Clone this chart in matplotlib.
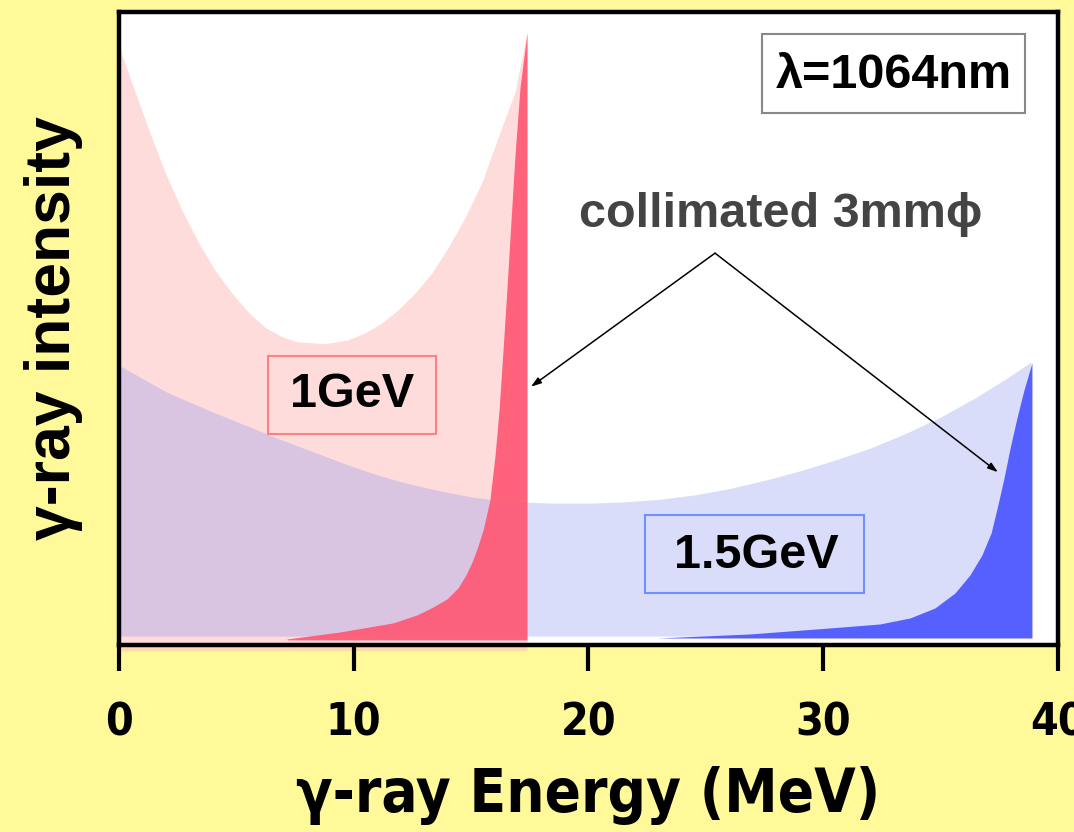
import matplotlib.pyplot as plt
from matplotlib.patches import Rectangle

# 1 GeV electrons, full (uncollimated) spectrum
e_1gev = [0, 0.13, 0.55, 1.24, 1.96, 2.68, 3.37, 4.09, 4.81, 5.5, 6.22, 6.94,
          7.61, 8.78, 9.75, 10.48, 11.2, 11.88, 12.61, 13.33, 14.01, 14.74,
          15.46, 16.14, 16.87, 17.38]
i_1gev = [94.8, 93.2, 88.8, 81.7, 74.7, 68.7, 63.7, 59.2, 55.6, 52.6, 50.2, 48.7,
          47.9, 47.6, 48.2, 49.3, 50.9, 52.9, 55.6, 58.8, 62.7, 67.5,
          73.1, 80.1, 87.4, 96.8]

# 1 GeV, collimated 3mm
e_1gev_col = [7.16, 9.41, 11.67, 12.69, 13.38, 13.97, 14.44, 14.78, 15.04, 15.25,
              15.51, 15.8, 16.02, 16.19, 16.36, 16.53, 16.7, 16.87, 17.08, 17.38]
i_1gev_col = [0.95, 2.05, 3.48, 4.74, 6.0, 7.27, 9.0, 11.06, 13.11, 15.17,
              18.17, 22.91, 30.02, 37.12, 46.6, 56.56, 67.14, 77.41, 87.99, 96.68]

# 1.5 GeV electrons, full spectrum
e_15gev = [0, 1.0, 2.0, 3.0, 4.0, 5.0, 6.0, 7.0, 8.0, 9.0, 10.0, 11.0, 12.0, 13.0,
           14.0, 15.0, 16.0, 17.0, 18.5, 20.0, 21.5, 23.0, 24.5, 26.0, 27.5, 29.0,
           30.5, 32.0, 33.5, 35.0, 36.5, 37.8, 38.85]
i_15gev = [44.2, 42.1, 40.0, 38.4, 36.8, 35.3, 33.8, 32.3, 30.9, 29.5, 28.1, 26.9,
           25.8, 24.9, 24.1, 23.4, 22.9, 22.6, 22.4, 22.4, 22.6, 23.0, 23.7, 24.7,
           26.0, 27.5, 29.2, 31.1, 33.4, 36.0, 39.1, 42.1, 44.7]

# 1.5 GeV, collimated 3mm
e_15gev_col = [22.92, 26.88, 30.29, 32.42, 33.7, 34.76, 35.61, 36.25, 36.76, 37.15,
               37.44, 37.7, 37.96, 38.25, 38.55, 38.89]
i_15gev_col = [1.1, 1.74, 2.69, 3.32, 4.27, 5.85, 8.21, 11.06, 14.22, 17.69,
               22.12, 26.38, 31.12, 35.86, 40.28, 44.55]

xticks = [0, 10, 20, 30, 40]

narrow = ['Liberation Sans Narrow', 'DejaVu Sans']
bold = ['Liberation Sans', 'DejaVu Sans']

fig = plt.figure(figsize=(10.74, 8.32), dpi=100, facecolor='#FFF99A')
ax = fig.add_axes([0.1108, 0.2248, 0.8743, 0.7608])
ax.set_facecolor('white')

# broad spectra first, sharp collimated peaks on top
ax.fill_between(e_1gev, i_1gev, -0.9, color=(1, 187/255, 187/255), alpha=0.5,
                lw=0, clip_on=False)
ax.fill_between(e_15gev, i_15gev, 1.4, color=(132/255, 145/255, 238/255),
                alpha=0.3, lw=0)
ax.fill_between(e_1gev_col, i_1gev_col, 0.8, color=(1, 85/255, 113/255),
                alpha=0.9, lw=0)
ax.fill_between(e_15gev_col, i_15gev_col, 1.1, color='#5560FF', lw=0)

ax.set_xlim(0, 40)
ax.set_ylim(0, 100)
ax.set_xticks(xticks)
ax.set_yticks([])
ax.tick_params(axis='x', direction='out', length=19, width=3, pad=22, color='black')
for lab in ax.get_xticklabels():
    lab.set_fontfamily(narrow)
    lab.set_fontstretch('condensed')
    lab.set_fontweight('bold')
    lab.set_fontsize(32)
for sp in ax.spines.values():
    sp.set_linewidth(3.2)
    sp.set_color('black')

ax.set_xlabel('γ-ray Energy (MeV)', fontsize=43, fontweight='bold',
              family=narrow, fontstretch='condensed', labelpad=15)
ax.set_ylabel('γ-ray intensity', fontsize=45, fontweight='bold',
              family=bold, labelpad=26)

# labelled boxes
ax.add_patch(Rectangle((6.35, 33.3), 7.15, 12.4, fill=False, ec='#FF8080', lw=1.5))
ax.text(9.93, 39.5, '1GeV', fontsize=35, fontweight='bold', family=bold,
        ha='center', va='center')

ax.add_patch(Rectangle((22.41, 8.2), 9.33, 12.3, fill=False, ec='#7090FF', lw=1.5))
ax.text(27.13, 14.2, '1.5GeV', fontsize=35, fontweight='bold', family=bold,
        ha='center', va='center')

ax.add_patch(Rectangle((27.39, 84.0), 11.2, 12.5, fc='white', ec='#888888', lw=1.5))
ax.text(32.99, 90.0, 'λ=1064nm', fontsize=35, fontweight='bold', family=bold,
        ha='center', va='center')

# collimated annotation with two arrows
ax.text(28.2, 66.0, 'collimated 3mmϕ', fontsize=35, fontweight='bold', family=bold,
        color='#444444', ha='center', va='baseline')
apex = (25.39, 61.9)
for tip in [(17.55, 40.8), (37.44, 27.3)]:
    ax.annotate('', xy=tip, xytext=apex,
                arrowprops=dict(arrowstyle='-|>,head_length=0.6,head_width=0.2',
                                color='black', lw=1.1, shrinkA=0, shrinkB=0))

fig.savefig('out.png', dpi=100, facecolor=fig.get_facecolor())
